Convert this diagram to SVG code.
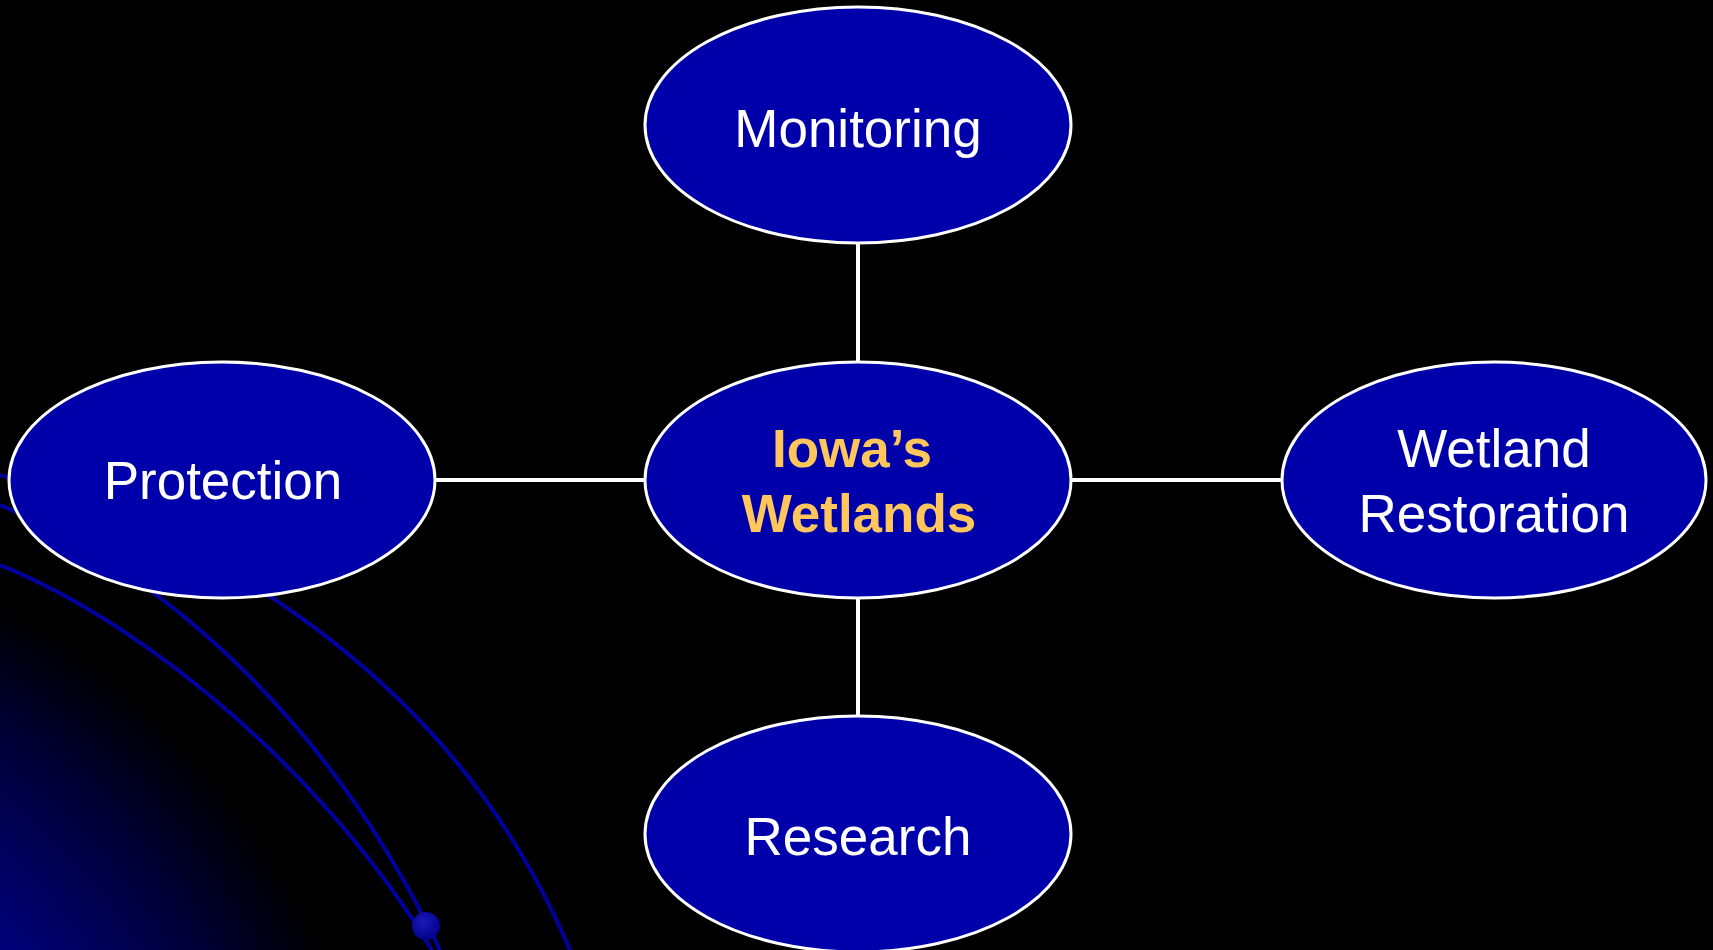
<svg xmlns="http://www.w3.org/2000/svg" width="1713" height="950" viewBox="0 0 1713 950">
  <defs>
    <radialGradient id="glow" gradientUnits="userSpaceOnUse" cx="-350" cy="1250" r="820">
      <stop offset="0" stop-color="#0000a8"/>
      <stop offset="0.5" stop-color="#000090"/>
      <stop offset="0.76" stop-color="#000038"/>
      <stop offset="0.9" stop-color="#000000"/>
    </radialGradient>
    <radialGradient id="dot" cx="0.4" cy="0.35" r="0.7">
      <stop offset="0" stop-color="#1a1ab8"/>
      <stop offset="1" stop-color="#00008a"/>
    </radialGradient>
  </defs>
  <style>
    .node { fill: #0000aa; stroke: #ffffff; stroke-width: 3; }
    .edge { stroke: #ffffff; stroke-width: 4; fill: none; }
    .deco { stroke: #0000a0; stroke-width: 4; fill: none; }
    .lbl { font-family: "Liberation Sans", Arial, sans-serif; font-size: 53px; fill: #ffffff; text-anchor: middle; }
    .hub { font-family: "Liberation Sans", Arial, sans-serif; font-size: 53px; font-weight: bold; fill: #ffc65c; text-anchor: middle; }
  </style>
  <rect width="1713" height="950" fill="#000000"/>
  <g id="decoration">
    <rect width="1713" height="950" fill="url(#glow)"/>
    <path class="deco" d="M0,565 C150,625 330,780 432,950"/>
    <path class="deco" d="M0,505 C180,580 340,740 440,950"/>
    <path class="deco" d="M0,475 C230,540 460,690 570,950"/>
    <circle cx="426" cy="926" r="14" fill="url(#dot)"/>
  </g>
  <g id="connectors">
    <line class="edge" x1="858" y1="243" x2="858" y2="362"/>
    <line class="edge" x1="858" y1="598" x2="858" y2="716"/>
    <line class="edge" x1="435" y1="480" x2="645" y2="480"/>
    <line class="edge" x1="1071" y1="480" x2="1282" y2="480"/>
  </g>
  <g id="node-monitoring">
    <ellipse class="node" cx="858" cy="125" rx="213" ry="118"/>
    <text class="lbl" x="858" y="147">Monitoring</text>
  </g>
  <g id="node-iowas-wetlands">
    <ellipse class="node" cx="858" cy="480" rx="213" ry="118"/>
    <text class="hub" x="852" y="467">Iowa’s</text>
    <text class="hub" x="859" y="532">Wetlands</text>
  </g>
  <g id="node-protection">
    <ellipse class="node" cx="222" cy="480" rx="213" ry="118"/>
    <text class="lbl" x="223" y="499">Protection</text>
  </g>
  <g id="node-wetland-restoration">
    <ellipse class="node" cx="1494" cy="480" rx="212" ry="118"/>
    <text class="lbl" x="1494" y="467">Wetland</text>
    <text class="lbl" x="1494" y="532">Restoration</text>
  </g>
  <g id="node-research">
    <ellipse class="node" cx="858" cy="834" rx="213" ry="118"/>
    <text class="lbl" x="858" y="855">Research</text>
  </g>
</svg>
